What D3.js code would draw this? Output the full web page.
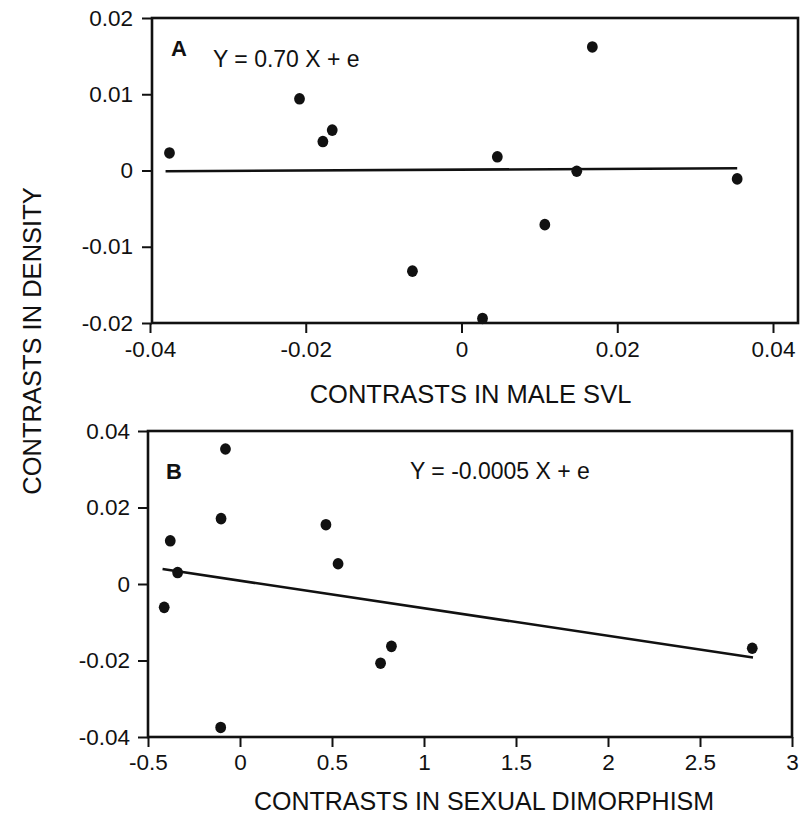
<!DOCTYPE html>
<html lang="en">
<head>
<meta charset="utf-8">
<title>Contrasts in density</title>
<script src="https://cdnjs.cloudflare.com/ajax/libs/d3/7.8.5/d3.min.js"></script>
<style>
  html, body { margin: 0; padding: 0; background: #fff; }
  svg { display: block; }
  text { font-family: "Liberation Sans", Arial, Helvetica, sans-serif; fill: #111; }
  .tick line { stroke: #111; stroke-width: 2; }
  .tick text { font-size: 22.5px; }
</style>
</head>
<body>
<div id="chart"></div>
<script>
// panel A: density vs male SVL
const svlX = [-0.0375, -0.0208, -0.0178, -0.0166, -0.0063, 0.0027, 0.0046, 0.0107, 0.0148, 0.0168, 0.0354];
const svlY = [0.0023, 0.0094, 0.0038, 0.0053, -0.0132, -0.0194, 0.0018, -0.0071, -0.0001, 0.0162, -0.0011];
const svlFitX = [-0.038, 0.0354];
const svlFitY = [-0.0001, 0.0003];
const svlTicksX = [-0.04, -0.02, 0, 0.02, 0.04];
const svlTickLabelsX = ["-0.04", "-0.02", "0", "0.02", "0.04"];
const svlTicksY = [-0.02, -0.01, 0, 0.01, 0.02];
const svlTickLabelsY = ["-0.02", "-0.01", "0", "0.01", "0.02"];

// panel B: density vs sexual dimorphism
const dimX = [-0.079, -0.103, -0.379, -0.339, -0.412, -0.105, 0.467, 0.533, 0.823, 0.764, 2.784];
const dimY = [0.0353, 0.0171, 0.0113, 0.0030, -0.0061, -0.0375, 0.0155, 0.0053, -0.0163, -0.0207, -0.0168];
const dimFitX = [-0.421, 2.788];
const dimFitY = [0.0039, -0.0192];
const dimTicksX = [-0.5, 0, 0.5, 1, 1.5, 2, 2.5, 3];
const dimTickLabelsX = ["-0.5", "0", "0.5", "1", "1.5", "2", "2.5", "3"];
const dimTicksY = [-0.04, -0.02, 0, 0.02, 0.04];
const dimTickLabelsY = ["-0.04", "-0.02", "0", "0.02", "0.04"];

const width = 804;
const height = 818;

const svg = d3.select("#chart")
  .append("svg")
  .attr("width", width)
  .attr("height", height);

function panel(opt) {
  const x = d3.scaleLinear().domain(opt.xDomain).range(opt.xRange);
  const y = d3.scaleLinear().domain(opt.yDomain).range(opt.yRange);
  const g = svg.append("g");

  // x axis ticks
  g.append("g")
    .attr("transform", `translate(0,${opt.frame.bottom})`)
    .call(d3.axisBottom(x)
      .tickValues(opt.ticksX)
      .tickFormat((d, i) => opt.labelsX[i])
      .tickSize(10)
      .tickPadding(opt.padX))
    .call(a => a.select(".domain").remove());

  // y axis ticks
  g.append("g")
    .attr("transform", `translate(${opt.frame.left},0)`)
    .call(d3.axisLeft(y)
      .tickValues(opt.ticksY)
      .tickFormat((d, i) => opt.labelsY[i])
      .tickSize(10)
      .tickPadding(opt.padY))
    .call(a => a.select(".domain").remove());

  g.selectAll(".tick text").attr("fill", "#111");

  // frame
  g.append("rect")
    .attr("x", opt.frame.left)
    .attr("y", opt.frame.top)
    .attr("width", opt.frame.right - opt.frame.left)
    .attr("height", opt.frame.bottom - opt.frame.top)
    .attr("fill", "none")
    .attr("stroke", "#111")
    .attr("stroke-width", 2.6);

  // regression line
  g.append("line")
    .attr("x1", x(opt.fitX[0]))
    .attr("y1", y(opt.fitY[0]))
    .attr("x2", x(opt.fitX[1]))
    .attr("y2", y(opt.fitY[1]))
    .attr("stroke", "#111")
    .attr("stroke-width", 2.6);

  // points
  g.append("g")
    .selectAll("ellipse")
    .data(opt.px.map((d, i) => [d, opt.py[i]]))
    .enter()
    .append("ellipse")
      .attr("cx", d => x(d[0]))
      .attr("cy", d => y(d[1]))
      .attr("rx", 5.4)
      .attr("ry", 5.8)
      .attr("fill", "#111");

  // panel letter and equation
  g.append("text")
    .attr("x", opt.letterPos[0])
    .attr("y", opt.letterPos[1])
    .attr("font-size", 22)
    .attr("font-weight", "bold")
    .text(opt.letter);

  g.append("text")
    .attr("x", opt.eqPos[0])
    .attr("y", opt.eqPos[1])
    .attr("font-size", 23)
    .text(opt.equation);

  // x title
  g.append("text")
    .attr("x", opt.titlePos[0])
    .attr("y", opt.titlePos[1])
    .attr("text-anchor", "middle")
    .attr("font-size", opt.titleSize)
    .text(opt.title);
}

panel({
  xDomain: [-0.04, 0.04], xRange: [150, 773],
  yDomain: [-0.02, 0.02], yRange: [323, 18],
  frame: {left: 152, right: 798, top: 18, bottom: 323},
  ticksX: svlTicksX, labelsX: svlTickLabelsX,
  ticksY: svlTicksY, labelsY: svlTickLabelsY,
  padX: 8, padY: 9,
  px: svlX, py: svlY, fitX: svlFitX, fitY: svlFitY,
  letter: "A", letterPos: [171, 56],
  equation: "Y = 0.70 X + e", eqPos: [213, 67],
  title: "CONTRASTS IN MALE SVL", titlePos: [470.5, 403], titleSize: 25.5
});

panel({
  xDomain: [-0.5, 3], xRange: [148, 792],
  yDomain: [-0.04, 0.04], yRange: [737, 431],
  frame: {left: 148, right: 792, top: 431, bottom: 737},
  ticksX: dimTicksX, labelsX: dimTickLabelsX,
  ticksY: dimTicksY, labelsY: dimTickLabelsY,
  padX: 7, padY: 8,
  px: dimX, py: dimY, fitX: dimFitX, fitY: dimFitY,
  letter: "B", letterPos: [166, 479],
  equation: "Y = -0.0005 X + e", eqPos: [410, 479],
  title: "CONTRASTS IN SEXUAL DIMORPHISM", titlePos: [484, 810], titleSize: 25
});

// shared y title
svg.append("text")
  .attr("transform", "translate(41,341) rotate(-90)")
  .attr("text-anchor", "middle")
  .attr("font-size", 25.5)
  .text("CONTRASTS IN DENSITY");
</script>
</body>
</html>
